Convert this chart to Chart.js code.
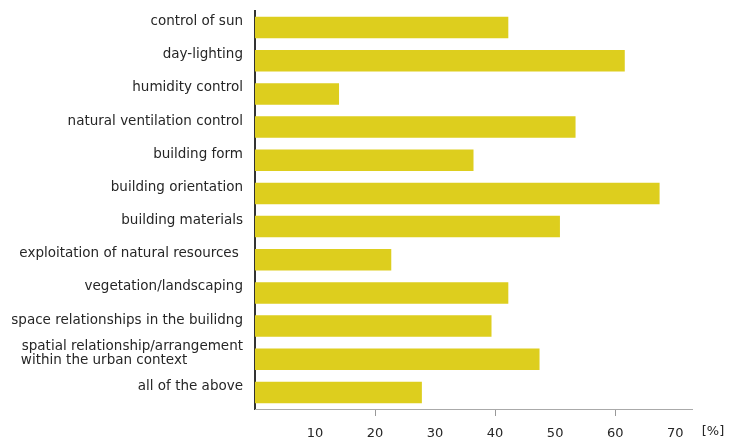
<!DOCTYPE html>
<html>
<head>
<meta charset="utf-8">
<script src="https://cdn.jsdelivr.net/npm/chart.js@4.4.1/dist/chart.umd.min.js"></script>
<style>
  html, body { margin: 0; padding: 0; background: #ffffff; }
  #wrap { width: 730px; height: 444px; position: relative; }
</style>
</head>
<body>
<div id="wrap"><canvas id="c" width="730" height="444"></canvas></div>
<script>
const categories = [
  "control of sun",
  "day-lighting",
  "humidity control",
  "natural ventilation control",
  "building form",
  "building orientation",
  "building materials",
  "exploitation of natural resources ",
  "vegetation/landscaping",
  "space relationships in the builidng",
  "spatial relationship/arrangement\nwithin the urban context",
  "all of the above"
];
const percentages = [42.2, 61.6, 14.0, 53.4, 36.4, 67.4, 50.8, 22.7, 42.2, 39.4, 47.4, 27.8];
const tickValues = [10, 20, 30, 40, 50, 60, 70];
const markedTicks = [20, 40, 60];
const unitLabel = "[%]";

const FONT = "'DejaVu Sans', Verdana, sans-serif";
const LABEL_SIZE = 13.5;
const TEXT_COLOR = '#262626';

// left-align lines of multi-line labels (drawn right-aligned) by padding with spaces
const mctx = document.createElement('canvas').getContext('2d');
mctx.font = LABEL_SIZE + "px " + FONT;
function buildLabel(text) {
  const lines = text.split("\n");
  if (lines.length === 1) return text;
  const w = Math.max(...lines.map(l => mctx.measureText(l).width));
  const sp = mctx.measureText(" ").width;
  return lines.map(l => l + " ".repeat(Math.round((w - mctx.measureText(l).width) / sp)));
}
const labels = categories.map(buildLabel);

const unitPlugin = {
  id: 'unitLabel',
  afterDraw(chart) {
    const xs = chart.scales.x;
    const ctx = chart.ctx;
    ctx.save();
    ctx.font = "13px " + FONT;
    ctx.fillStyle = TEXT_COLOR;
    ctx.textAlign = "center";
    ctx.textBaseline = "middle";
    ctx.fillText(unitLabel, xs.getPixelForValue(76.3), 432);
    ctx.restore();
  }
};

new Chart(document.getElementById('c'), {
  type: 'bar',
  data: {
    labels: labels,
    datasets: [{
      data: percentages,
      backgroundColor: '#DDCE1E',
      borderWidth: 0,
      categoryPercentage: 1,
      barPercentage: 0.65
    }]
  },
  options: {
    indexAxis: 'y',
    responsive: false,
    animation: false,
    devicePixelRatio: 1,
    layout: { padding: { top: 11, right: 38, left: 0, bottom: 0 } },
    plugins: { legend: { display: false }, tooltip: { enabled: false } },
    scales: {
      y: {
        grid: { display: false, drawTicks: false },
        border: { display: true, color: '#333333', width: 2 },
        ticks: {
          padding: 12,
          autoSkip: false,
          labelOffset: -6,
          color: TEXT_COLOR,
          font: { family: FONT, size: LABEL_SIZE, lineHeight: 1.07 }
        },
        afterFit(scale) {
          scale.width = 255;
          scale.paddingTop = 0;
          scale.paddingBottom = 0;
        }
      },
      x: {
        min: 0,
        max: 72.8,
        grid: {
          drawOnChartArea: false,
          drawTicks: true,
          tickLength: 7,
          tickWidth: 1,
          tickColor: (ctx) => markedTicks.includes(ctx.tick && ctx.tick.value) ? '#999999' : 'rgba(0,0,0,0)'
        },
        border: { display: true, color: '#aaaaaa', width: 1, dash: [2, 2] },
        afterBuildTicks(axis) { axis.ticks = tickValues.map(v => ({ value: v })); },
        ticks: {
          padding: 10,
          color: TEXT_COLOR,
          maxRotation: 0,
          autoSkip: false,
          font: { family: FONT, size: 13 },
          callback: (v) => String(v)
        },
        afterFit(scale) {
          scale.height = 35;
          scale.paddingLeft = 0;
          scale.paddingRight = 0;
        }
      }
    }
  },
  plugins: [unitPlugin]
});
</script>
</body>
</html>
